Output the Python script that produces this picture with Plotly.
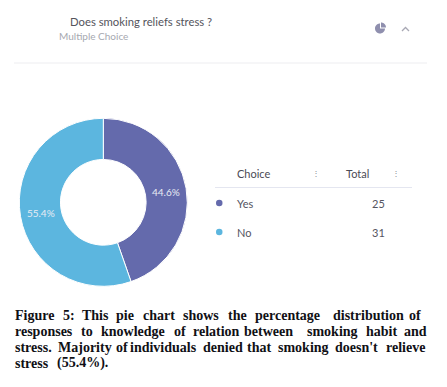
import plotly.graph_objects as go

W, H = 447, 387
choices = ["Yes", "No"]
totals = [25, 31]
share_labels = ["44.6%", "55.4%"]
colors = ["#646AAC", "#5CB6DF"]

TITLE = "Does smoking reliefs stress ?"
SUBTITLE = "Multiple Choice"
caption_lines = [
    [("Figure", 15), ("5:", 63), ("This", 82), ("pie", 116), ("chart", 143), ("shows", 183),
     ("the", 228), ("percentage", 255), ("distribution", 333), ("of", 409)],
    [("responses", 15), ("to", 81), ("knowledge", 101), ("of", 174), ("relation", 193),
     ("between", 244), ("smoking", 307), ("habit", 366), ("and", 404)],
    [("stress.", 15), ("Majority", 58), ("of", 116), ("individuals", 130), ("denied", 203),
     ("that", 247), ("smoking", 278), ("doesn't", 335), ("relieve", 386)],
    [("stress", 15), ("(55.4%).", 57)],
]
caption_y = [315, 331, 347, 363]


def px(x):
    return x / W


def py(y):
    return 1 - y / H


def pt(x, y):
    return f"{px(x):.5f} {py(y):.5f}"


fig = go.Figure()
fig.add_trace(go.Pie(
    labels=choices, values=totals, text=share_labels, textinfo="text",
    textposition="inside", insidetextorientation="horizontal", hole=0.51,
    sort=False, direction="clockwise", rotation=0, showlegend=False,
    marker=dict(colors=colors, line=dict(color="white", width=1)),
    textfont=dict(family="Lato", size=10, color="#E8ECF4"),
    domain=dict(x=[px(19.3), px(187.3)], y=[py(286.3), py(118.3)]),
))


def note(x, y, text, size, color, family="Lato", anchor="left"):
    fig.add_annotation(x=px(x), y=py(y), xref="paper", yref="paper", text=text, showarrow=False,
                       xanchor=anchor, yanchor="middle", borderpad=0, borderwidth=0,
                       font=dict(family=family, size=size, color=color))


note(70, 21.5, TITLE, 11.3, "#54545C")
note(59, 36.5, SUBTITLE, 10, "#A6A8B0")
note(237, 173, "Choice", 11, "#4A4A55")
note(346, 173, "Total", 11, "#4A4A55")
note(315.5, 173, "⋮", 8, "#8A8A94", anchor="center")
note(396, 173, "⋮", 8, "#8A8A94", anchor="center")
for i, y in enumerate([203, 232]):
    note(237, y, choices[i], 11, "#55555F")
    note(385, y, str(totals[i]), 11, "#55555F", anchor="right")
    fig.add_shape(type="circle", xref="paper", yref="paper", line_width=0, fillcolor=colors[i],
                  x0=px(216), x1=px(222.5), y0=py(y + 3.2), y1=py(y - 3.2))

for y0, x0, x1, c in [(63, 14, 427, "#EDEDF0"), (187.5, 215, 412, "#E4E6F0")]:
    fig.add_shape(type="line", xref="paper", yref="paper", x0=px(x0), x1=px(x1), y0=py(y0), y1=py(y0),
                  line=dict(color=c, width=1))
fig.add_shape(type="path", xref="paper", yref="paper",
              path=f"M {pt(402, 31)} L {pt(405.5, 27.5)} L {pt(409, 31)}",
              line=dict(color="#A8A8B4", width=1.3))

# small pie icon in the header: three-quarter body and detached wedge
cx, cy, r = 380, 28.5, 5
k = 0.552 * r
body = (f"M {pt(cx, cy - r)} C {pt(cx - k, cy - r)} {pt(cx - r, cy - k)} {pt(cx - r, cy)} "
        f"C {pt(cx - r, cy + k)} {pt(cx - k, cy + r)} {pt(cx, cy + r)} "
        f"C {pt(cx + k, cy + r)} {pt(cx + r, cy + k)} {pt(cx + r, cy)} L {pt(cx, cy)} Z")
wx, wy = cx + 1, cy - 1
wedge = f"M {pt(wx, wy)} L {pt(wx, wy - r)} C {pt(wx + k, wy - r)} {pt(wx + r, wy - k)} {pt(wx + r, wy)} Z"
for p in (body, wedge):
    fig.add_shape(type="path", xref="paper", yref="paper", path=p, fillcolor="#8F8FAE", line_width=0)

for line, y in zip(caption_lines, caption_y):
    for word, x in line:
        note(x, y, f"<b>{word}</b>", 14, "#101015", family="Liberation Serif")

fig.update_layout(width=W, height=H, margin=dict(l=0, r=0, t=0, b=0), autosize=False,
                  paper_bgcolor="white", plot_bgcolor="white")
fig.write_html("out.html", config=dict(displayModeBar=False),
               post_script="document.body.style.margin='0';document.body.style.overflow='hidden';")
